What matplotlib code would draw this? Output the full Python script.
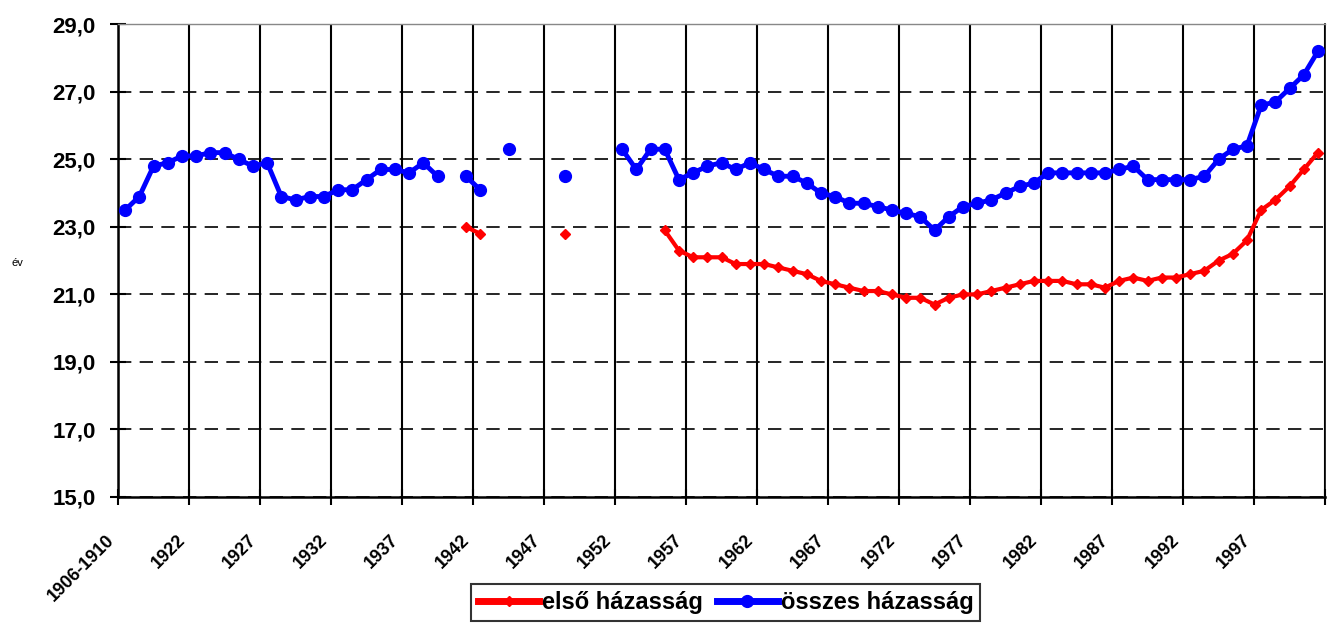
import matplotlib.pyplot as plt
import numpy as np
from matplotlib import font_manager

installed = {f.name for f in font_manager.fontManager.ttflist}
NARROW = 'Liberation Sans Narrow' in installed
plt.rcParams['font.family'] = ['Liberation Sans Narrow' if NARROW else 'Liberation Sans',
                               'DejaVu Sans']

nan = np.nan

# category axis: one grouped period, then single years
categories = ['1906-1910', '1911-1915', '1916-1919', '1920', '1921'] + \
    [str(y) for y in range(1922, 2002)]

# mean age at marriage, all marriages (blue)
osszes = [23.5, 23.9, 24.8, 24.9, 25.1, 25.1, 25.2, 25.2, 25.0, 24.8,
          24.9, 23.9, 23.8, 23.9, 23.9, 24.1, 24.1, 24.4, 24.7, 24.7,
          24.6, 24.9, 24.5, nan, 24.5, 24.1, nan, 25.3, nan, nan,
          nan, 24.5, nan, nan, nan, 25.3, 24.7, 25.3, 25.3, 24.4,
          24.6, 24.8, 24.9, 24.7, 24.9, 24.7, 24.5, 24.5, 24.3, 24.0,
          23.9, 23.7, 23.7, 23.6, 23.5, 23.4, 23.3, 22.9, 23.3, 23.6,
          23.7, 23.8, 24.0, 24.2, 24.3, 24.6, 24.6, 24.6, 24.6, 24.6,
          24.7, 24.8, 24.4, 24.4, 24.4, 24.4, 24.5, 25.0, 25.3, 25.4,
          26.6, 26.7, 27.1, 27.5, 28.2]

# mean age at first marriage (red)
elso = [nan, nan, nan, nan, nan, nan, nan, nan, nan, nan,
        nan, nan, nan, nan, nan, nan, nan, nan, nan, nan,
        nan, nan, nan, nan, 23.0, 22.8, nan, nan, nan, nan,
        nan, 22.8, nan, nan, nan, nan, nan, nan, 22.9, 22.3,
        22.1, 22.1, 22.1, 21.9, 21.9, 21.9, 21.8, 21.7, 21.6, 21.4,
        21.3, 21.2, 21.1, 21.1, 21.0, 20.9, 20.9, 20.7, 20.9, 21.0,
        21.0, 21.1, 21.2, 21.3, 21.4, 21.4, 21.4, 21.3, 21.3, 21.2,
        21.4, 21.5, 21.4, 21.5, 21.5, 21.6, 21.7, 22.0, 22.2, 22.6,
        23.5, 23.8, 24.2, 24.7, 25.2]

yticks = [15, 17, 19, 21, 23, 25, 27, 29]

# font sizes (narrow face is used at a larger size, like the original)
if NARROW:
    fs_y, fs_x, fs_leg = 20, 16, 21
else:
    fs_y, fs_x, fs_leg = 16, 13, 17

x = np.arange(len(categories))

fig = plt.figure(figsize=(13.29, 6.25), dpi=100)
ax = fig.add_axes([0.0888, 0.2048, 0.9082, 0.7563])

l_elso, = ax.plot(x, elso, color='#ff0000', lw=3, marker='D', ms=5.5,
                  zorder=3, clip_on=False)
l_osszes, = ax.plot(x, osszes, color='#0000ff', lw=3.5, marker='o', ms=8.5,
                    zorder=4, clip_on=False)

ax.set_xlim(-0.5, len(categories) - 0.5)
ax.set_ylim(yticks[0], yticks[-1])

# gridlines / ticks sit on category boundaries, labels every 5th category
bounds = np.arange(-0.5, len(categories), 5)
labels = categories[::5] + [''] * (len(bounds) - len(categories[::5]))
ax.set_xticks(bounds)
ax.set_xticklabels(labels, rotation=45, ha='right', va='top',
                   fontsize=fs_x, fontweight='bold')
ax.set_yticks(yticks)
ax.set_yticklabels(['{:.1f}'.format(v).replace('.', ',') for v in yticks],
                   fontsize=fs_y, fontweight='bold')

ax.grid(axis='x', color='black', lw=1.5, ls='-')
ax.grid(axis='y', color='black', lw=1.2, ls=(0, (8, 5)))
ax.set_axisbelow(True)

ax.tick_params(axis='both', direction='inout', length=12, width=1.5,
               color='black')
ax.tick_params(axis='y', pad=10)
ax.tick_params(axis='x', pad=19)

for s in ['left', 'bottom']:
    ax.spines[s].set_linewidth(1.8)
ax.spines['top'].set_color('#888888')
ax.spines['top'].set_linewidth(1)
ax.spines['right'].set_linewidth(1.2)

fig.text(0.009, 0.58, 'év', fontsize=8, va='center')

leg = fig.legend([l_elso, l_osszes], ['első házasság', 'összes házasság'],
                 loc='upper center', bbox_to_anchor=(0.546, 0.066), ncol=2,
                 frameon=True, fancybox=False, edgecolor='black',
                 prop={'size': fs_leg, 'weight': 'bold'}, handlelength=2.6,
                 columnspacing=0.6, handletextpad=0.1, borderpad=0.3,
                 borderaxespad=0)
leg.get_frame().set_linewidth(1.5)
for h in leg.legend_handles:
    h.set_linewidth(5)

fig.savefig('out.png', dpi=100)
